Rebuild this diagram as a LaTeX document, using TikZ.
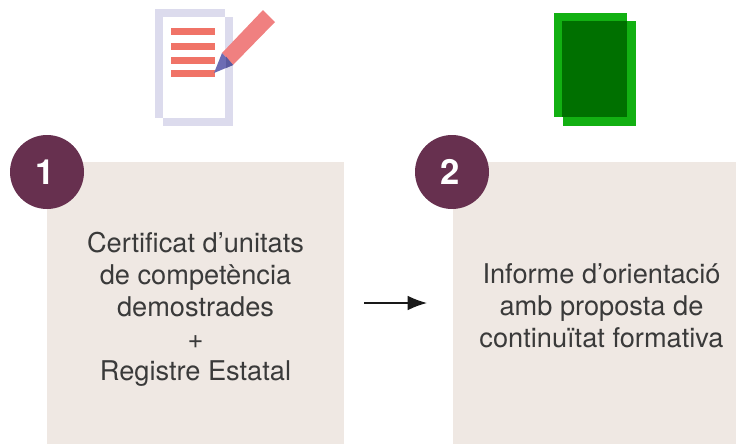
\documentclass[tikz,border=0pt]{standalone}
\usepackage{fontspec}
\setmainfont{TeX Gyre Heros}
\usetikzlibrary{arrows.meta}
\definecolor{boxc}{HTML}{EFE8E3}
\definecolor{plum}{HTML}{67304F}
\definecolor{lav}{HTML}{DCDBED}
\definecolor{salmon}{HTML}{F07367}
\definecolor{penc}{HTML}{F08080}
\definecolor{tipa}{HTML}{6C6CB4}
\definecolor{tipb}{HTML}{5A5AA0}
\definecolor{grn}{HTML}{12B012}
\definecolor{dgrn}{HTML}{007000}
\definecolor{txt}{HTML}{3A3A3A}
\tikzset{
  badge/.style={circle,fill=plum,minimum size=55.5pt,inner sep=0pt},
  badgenum/.style={text=white,inner sep=0pt,font=\fontsize{26}{26}\selectfont\bfseries},
  body/.style={align=center,text=txt,font=\fontsize{20.4}{24}\selectfont,inner sep=0pt},
  rule/.style={fill=salmon,draw=none},
}
\begin{document}
\begin{tikzpicture}[x=0.75pt,y=-0.75pt]
\useasboundingbox (0,0) rectangle (736,444);
% panels
\fill[boxc] (47,162) rectangle (344,444);
\fill[boxc] (453,162) rectangle (736,444);
% connector
\coordinate (arrowstart) at (364,303);
\coordinate (arrowend) at (427,303);
\draw[line width=1.1pt,black!90,-{Latex[length=14.5pt,width=11pt]}] (arrowstart) -- (arrowend);
% badges
\node[badge] (one) at (47,172) {};
\node[badge] (two) at (452,172) {};
\node[badgenum] (n1) at (45,172) {1};
\node[badgenum] (n2) at (450,172) {2};
% texts
\node[body] (t1) at (195.5,309) {Certificat d’unitats\\de competència\\demostrades\\+\\Registre Estatal};
\node[body] (t2) at (601.5,306) {Informe d’orientació\\amb proposta de\\continuïtat formativa};
% document icon
\fill[lav] (155,9) rectangle (225,118);
\fill[lav] (163,17) rectangle (233,126);
\fill[white] (163,17) rectangle (225,118);
\fill[rule] (171,28) rectangle (215,35);
\fill[rule] (171,43) rectangle (215,50);
\fill[rule] (171,57) rectangle (215,64);
\fill[rule] (171,70) rectangle (215,77);
% pencil
\fill[penc] (263,10) -- (275,22) -- (233,65) -- (222,53) -- cycle;
\fill[tipa] (222,53) -- (233,65) -- (214,73) -- cycle;
\fill[tipb] (226,56.5) -- (233,65) -- (226,68) -- cycle;
% green icon
\fill[grn] (554,13) rectangle (627,117);
\fill[grn] (563,21) rectangle (635.5,125.5);
\fill[dgrn] (562,21) rectangle (627,117);
\end{tikzpicture}
\end{document}
